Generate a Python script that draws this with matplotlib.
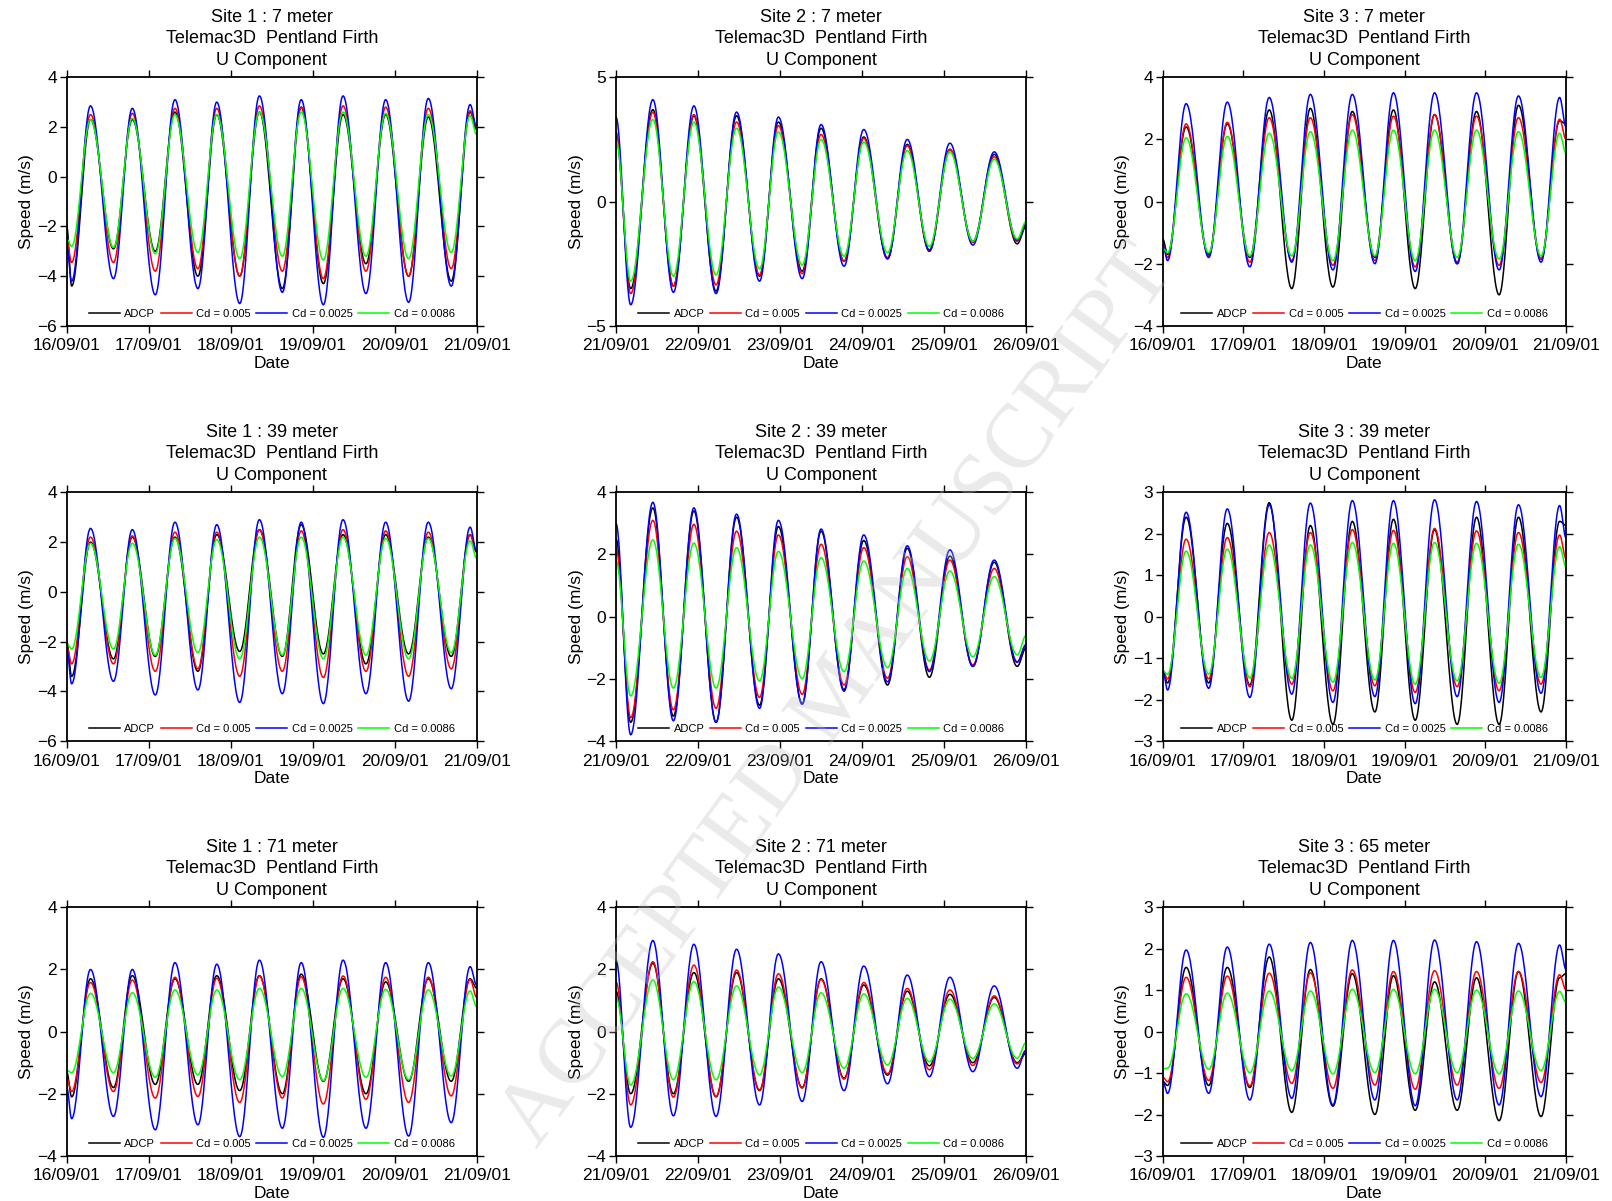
import numpy as np
import matplotlib
matplotlib.use("Agg")
import matplotlib.pyplot as plt

plt.rcParams['font.family'] = ['Liberation Sans', 'DejaVu Sans']

# --------------------------
# Data
# --------------------------
date_labels_a = ["16/09/01", "17/09/01", "18/09/01", "19/09/01", "20/09/01", "21/09/01"]
date_labels_b = ["21/09/01", "22/09/01", "23/09/01", "24/09/01", "25/09/01", "26/09/01"]
series_names = ["ADCP", "Cd = 0.005", "Cd = 0.0025", "Cd = 0.0086"]
series_colors = ["black", "#ff0000", "#0000ff", "#00ff00"]

# days since start: record start, tidal extremes (low, high, low, ...), record end
t_site13 = [0.0, 0.06, 0.29, 0.57, 0.80, 1.08, 1.32, 1.60, 1.83, 2.11, 2.35,
            2.63, 2.86, 3.13, 3.37, 3.65, 3.89, 4.17, 4.41, 4.69, 4.92, 5.0]
t_site2 = [0.0, 0.18, 0.45, 0.70, 0.95, 1.22, 1.47, 1.75, 1.98, 2.27, 2.50,
           2.78, 3.02, 3.31, 3.55, 3.82, 4.07, 4.35, 4.61, 4.89, 5.0]

# rows: ADCP, Cd=0.005, Cd=0.0025, Cd=0.0086
s1_7_low = [[-4.4, -2.9, -3.0, -4.0, -4.0, -4.5, -4.3, -3.5, -4.0, -4.2],
            [-3.45, -3.45, -3.8, -3.7, -4.0, -3.8, -4.1, -3.8, -4.0, -3.7],
            [-4.2, -4.1, -4.75, -4.5, -5.1, -4.65, -5.15, -4.7, -5.05, -4.4],
            [-2.8, -2.85, -3.1, -3.05, -3.3, -3.2, -3.35, -3.2, -3.3, -3.05]]
s1_7_high = [[2.3, 2.3, 2.6, 2.5, 2.6, 2.8, 2.5, 2.5, 2.4, 2.6],
             [2.5, 2.55, 2.75, 2.75, 2.85, 2.8, 2.85, 2.8, 2.75, 2.65],
             [2.85, 2.75, 3.1, 3.0, 3.25, 3.1, 3.25, 3.1, 3.15, 2.9],
             [2.3, 2.35, 2.5, 2.5, 2.6, 2.6, 2.6, 2.55, 2.5, 2.45]]
s1_7_ends = [(-2.0, 1.9), (-2.6, 2.0), (-2.8, 2.0), (-2.5, 1.7)]

s2_7_low = [[-3.5, -3.4, -3.6, -3.0, -2.8, -2.4, -2.3, -2.0, -1.6, -1.7],
            [-3.7, -3.4, -3.35, -2.95, -2.9, -2.4, -2.25, -1.95, -1.65, -1.6],
            [-4.15, -3.65, -3.7, -3.2, -3.1, -2.6, -2.3, -1.95, -1.75, -1.55],
            [-3.2, -3.0, -2.95, -2.7, -2.55, -2.2, -2.05, -1.8, -1.6, -1.5]]
s2_7_high = [[3.7, 3.45, 3.45, 3.2, 2.95, 2.6, 2.3, 2.1, 1.9],
             [3.6, 3.5, 3.2, 3.05, 2.7, 2.55, 2.25, 2.1, 1.8],
             [4.1, 3.85, 3.6, 3.4, 3.1, 2.9, 2.5, 2.35, 2.0],
             [3.3, 3.2, 2.95, 2.8, 2.5, 2.4, 2.05, 2.0, 1.7]]
s2_7_ends = [(2.6, -1.0), (2.8, -0.9), (3.4, -0.9), (2.5, -0.8)]

s3_7_low = [[-1.7, -1.7, -1.8, -2.8, -2.75, -1.8, -2.8, -2.0, -3.0, -1.85],
            [-1.8, -1.75, -1.95, -1.9, -2.05, -1.9, -2.1, -1.95, -2.05, -1.85],
            [-1.9, -1.8, -2.1, -1.95, -2.2, -2.0, -2.25, -2.0, -2.2, -1.95],
            [-1.65, -1.65, -1.75, -1.75, -1.9, -1.75, -1.9, -1.8, -1.85, -1.75]]
s3_7_high = [[2.4, 2.5, 2.95, 3.0, 2.9, 2.95, 2.8, 2.9, 3.1, 2.6],
             [2.5, 2.55, 2.7, 2.7, 2.8, 2.75, 2.8, 2.75, 2.7, 2.65],
             [3.15, 3.2, 3.35, 3.45, 3.45, 3.5, 3.5, 3.5, 3.4, 3.35],
             [2.05, 2.1, 2.2, 2.25, 2.3, 2.3, 2.3, 2.3, 2.25, 2.2]]
s3_7_ends = [(-1.2, 2.5), (-1.4, 2.0), (-1.4, 2.4), (-1.5, 1.55)]

s1_39_low = [[-3.4, -2.7, -2.6, -3.2, -2.4, -2.6, -2.5, -2.9, -2.5, -2.6],
             [-2.9, -2.9, -3.2, -3.1, -3.4, -3.2, -3.45, -3.2, -3.4, -3.1],
             [-3.7, -3.6, -4.15, -3.95, -4.45, -4.1, -4.5, -4.1, -4.4, -3.9],
             [-2.3, -2.3, -2.55, -2.45, -2.7, -2.55, -2.7, -2.55, -2.7, -2.45]]
s1_39_high = [[2.0, 2.2, 2.2, 2.3, 2.5, 2.7, 2.3, 2.3, 2.2, 2.3],
              [2.2, 2.25, 2.4, 2.4, 2.5, 2.45, 2.5, 2.45, 2.4, 2.3],
              [2.55, 2.5, 2.8, 2.7, 2.9, 2.8, 2.9, 2.8, 2.8, 2.6],
              [1.95, 1.95, 2.15, 2.1, 2.2, 2.2, 2.2, 2.15, 2.15, 2.05]]
s1_39_ends = [(-2.0, 1.6), (-2.2, 1.6), (-2.3, 1.6), (-2.1, 1.35)]

s2_39_low = [[-3.4, -3.2, -3.4, -2.85, -2.8, -2.35, -2.2, -1.95, -1.6, -1.6],
             [-3.25, -3.0, -2.95, -2.6, -2.5, -2.2, -1.98, -1.72, -1.55, -1.45],
             [-3.8, -3.35, -3.4, -2.95, -2.82, -2.4, -2.1, -1.77, -1.6, -1.47],
             [-2.55, -2.3, -2.3, -2.07, -2.0, -1.77, -1.64, -1.43, -1.29, -1.23]]
s2_39_high = [[3.5, 3.4, 3.2, 2.9, 2.75, 2.45, 2.2, 1.95, 1.75],
              [3.1, 2.97, 2.75, 2.63, 2.33, 2.22, 1.93, 1.82, 1.55],
              [3.68, 3.5, 3.3, 3.1, 2.82, 2.63, 2.28, 2.15, 1.82],
              [2.47, 2.37, 2.22, 2.1, 1.9, 1.79, 1.55, 1.47, 1.29]]
s2_39_ends = [(2.5, -1.0), (2.2, -0.9), (3.0, -0.9), (1.8, -0.6)]

s3_39_low = [[-1.6, -1.6, -1.65, -2.5, -2.6, -2.3, -2.5, -2.6, -2.6, -2.3],
             [-1.5, -1.5, -1.69, -1.63, -1.79, -1.67, -1.83, -1.69, -1.79, -1.63],
             [-1.77, -1.73, -1.95, -1.87, -2.07, -1.93, -2.1, -1.93, -2.07, -1.85],
             [-1.39, -1.39, -1.48, -1.49, -1.58, -1.53, -1.63, -1.55, -1.61, -1.47]]
s3_39_high = [[2.4, 2.25, 2.75, 2.2, 2.3, 2.35, 2.1, 2.4, 2.4, 2.3],
              [1.87, 1.91, 2.03, 2.03, 2.1, 2.08, 2.13, 2.07, 2.03, 1.97],
              [2.52, 2.6, 2.7, 2.74, 2.8, 2.8, 2.82, 2.78, 2.7, 2.68],
              [1.58, 1.63, 1.73, 1.73, 1.79, 1.77, 1.79, 1.77, 1.75, 1.69]]
s3_39_ends = [(-1.3, 2.2), (-1.3, 1.4), (-1.3, 1.9), (-1.3, 1.2)]

s1_71_low = [[-2.1, -1.8, -1.7, -1.7, -1.9, -2.0, -1.6, -2.0, -1.6, -1.6],
             [-1.93, -1.93, -2.14, -2.09, -2.28, -2.14, -2.33, -2.18, -2.28, -2.07],
             [-2.8, -2.73, -3.16, -3.0, -3.38, -3.11, -3.4, -3.11, -3.36, -2.93],
             [-1.32, -1.32, -1.47, -1.39, -1.55, -1.45, -1.58, -1.47, -1.55, -1.43]]
s1_71_high = [[1.7, 1.8, 1.7, 1.8, 1.8, 1.85, 1.7, 1.6, 1.7, 1.7],
              [1.58, 1.66, 1.75, 1.72, 1.79, 1.77, 1.79, 1.75, 1.75, 1.68],
              [2.0, 2.0, 2.22, 2.17, 2.3, 2.22, 2.3, 2.22, 2.22, 2.09],
              [1.23, 1.25, 1.34, 1.34, 1.39, 1.39, 1.39, 1.36, 1.34, 1.31]]
s1_71_ends = [(-1.3, 1.4), (-1.5, 1.1), (-1.8, 1.5), (-1.25, 0.8)]

s2_71_low = [[-2.0, -2.0, -2.1, -1.9, -1.8, -1.5, -1.4, -1.1, -1.0, -1.0],
             [-2.36, -2.11, -2.09, -1.88, -1.82, -1.53, -1.36, -1.23, -1.09, -1.04],
             [-3.08, -2.71, -2.73, -2.36, -2.25, -1.9, -1.68, -1.45, -1.29, -1.18],
             [-1.72, -1.55, -1.55, -1.39, -1.32, -1.18, -1.07, -0.97, -0.86, -0.86]]
s2_71_high = [[2.2, 1.9, 1.9, 1.7, 1.7, 1.5, 1.3, 1.2, 1.1],
              [2.25, 2.14, 1.98, 1.86, 1.68, 1.58, 1.39, 1.34, 1.15],
              [2.93, 2.81, 2.65, 2.5, 2.25, 2.11, 1.82, 1.75, 1.47],
              [1.66, 1.61, 1.47, 1.43, 1.25, 1.21, 1.07, 1.04, 0.89]]
s2_71_ends = [(1.3, -0.7), (1.6, -0.6), (2.3, -0.6), (1.1, -0.35)]

s3_65_low = [[-1.3, -1.3, -1.35, -1.95, -1.8, -2.0, -1.9, -1.9, -2.15, -2.05],
             [-1.21, -1.18, -1.31, -1.25, -1.37, -1.29, -1.39, -1.29, -1.37, -1.23],
             [-1.49, -1.49, -1.65, -1.61, -1.77, -1.65, -1.79, -1.65, -1.77, -1.57],
             [-0.88, -0.91, -0.99, -0.94, -1.02, -0.99, -1.02, -0.99, -1.02, -0.94]]
s3_65_high = [[1.55, 1.55, 1.8, 1.5, 1.4, 1.35, 1.2, 1.3, 1.45, 1.3],
              [1.31, 1.34, 1.41, 1.42, 1.49, 1.45, 1.47, 1.45, 1.45, 1.37],
              [1.97, 2.04, 2.11, 2.15, 2.2, 2.2, 2.21, 2.17, 2.13, 2.09],
              [0.91, 0.93, 0.98, 0.98, 1.02, 1.02, 1.02, 1.0, 0.98, 0.97]]
s3_65_ends = [(-1.2, 1.4), (-1.1, 1.0), (-1.2, 1.5), (-0.9, 0.7)]

panels = [
    ("Site 1 : 7 meter", t_site13, date_labels_a, s1_7_low, s1_7_high, s1_7_ends, (-6, 4), [-6, -4, -2, 0, 2, 4]),
    ("Site 2 : 7 meter", t_site2, date_labels_b, s2_7_low, s2_7_high, s2_7_ends, (-5, 5), [-5, 0, 5]),
    ("Site 3 : 7 meter", t_site13, date_labels_a, s3_7_low, s3_7_high, s3_7_ends, (-4, 4), [-4, -2, 0, 2, 4]),
    ("Site 1 : 39 meter", t_site13, date_labels_a, s1_39_low, s1_39_high, s1_39_ends, (-6, 4), [-6, -4, -2, 0, 2, 4]),
    ("Site 2 : 39 meter", t_site2, date_labels_b, s2_39_low, s2_39_high, s2_39_ends, (-4, 4), [-4, -2, 0, 2, 4]),
    ("Site 3 : 39 meter", t_site13, date_labels_a, s3_39_low, s3_39_high, s3_39_ends, (-3, 3), [-3, -2, -1, 0, 1, 2, 3]),
    ("Site 1 : 71 meter", t_site13, date_labels_a, s1_71_low, s1_71_high, s1_71_ends, (-4, 4), [-4, -2, 0, 2, 4]),
    ("Site 2 : 71 meter", t_site2, date_labels_b, s2_71_low, s2_71_high, s2_71_ends, (-4, 4), [-4, -2, 0, 2, 4]),
    ("Site 3 : 65 meter", t_site13, date_labels_a, s3_65_low, s3_65_high, s3_65_ends, (-3, 3), [-3, -2, -1, 0, 1, 2, 3]),
]


def knot_values(start, lows, highs, end):
    v = [start]
    for i in range(len(lows)):
        v.append(lows[i])
        if i < len(highs):
            v.append(highs[i])
    return v + [end]


def tidal_curve(tk, vk, n=30):
    # half-cosine shape between successive extremes
    ts, vs = [], []
    for i in range(len(tk) - 1):
        s = np.linspace(0, 1, n, endpoint=False)
        ts.append(tk[i] + (tk[i + 1] - tk[i]) * s)
        vs.append(vk[i] + (vk[i + 1] - vk[i]) * (1 - np.cos(np.pi * s)) / 2)
    ts.append([tk[-1]])
    vs.append([vk[-1]])
    return np.concatenate(ts), np.concatenate(vs)


fig = plt.figure(figsize=(16.12, 12.01), dpi=100)
lefts = [0.0414, 0.3821, 0.7213]
widths = [0.2543, 0.2545, 0.2502]
bottoms = [0.7286, 0.383, 0.0375]
height = 0.2071

for k, (title, tk, dlabels, lows, highs, ends, ylim, yticks) in enumerate(panels):
    row, col = divmod(k, 3)
    ax = fig.add_axes([lefts[col], bottoms[row], widths[col], height])
    for j in range(4):
        vk = knot_values(ends[j][0], lows[j], highs[j], ends[j][1])
        t, v = tidal_curve(tk, vk)
        ax.plot(t, v, color=series_colors[j], lw=1.1, label=series_names[j])
    ax.set_xlim(0, 5)
    ax.set_ylim(*ylim)
    ax.set_xticks(range(6))
    ax.set_xticklabels(dlabels, fontsize=12.5)
    ax.set_yticks(yticks)
    ax.tick_params(axis='y', labelsize=12.5, pad=2)
    ax.tick_params(axis='x', pad=4)
    ax.tick_params(direction='out', length=5, width=1, top=True, right=True)
    for sp in ax.spines.values():
        sp.set_linewidth(1.3)
    ax.set_xlabel("Date", fontsize=12.5, labelpad=2)
    ax.set_ylabel("Speed (m/s)", fontsize=12.5, labelpad=2)
    ax.set_title(title + "\nTelemac3D  Pentland Firth\nU Component", fontsize=13,
                 linespacing=1.33, pad=9)
    ax.legend(loc='lower center', bbox_to_anchor=(0.5, 0.0), ncol=4, frameon=False,
              fontsize=8, handlelength=2.8, columnspacing=0.5, handletextpad=0.4,
              borderaxespad=0.2)

fig.text(0.52, 0.42, "ACCEPTED MANUSCRIPT", family=['Liberation Serif', 'DejaVu Serif'],
         fontsize=66, color='#bbbbbb', alpha=0.3, rotation=54, ha='center', va='center',
         zorder=10)

fig.savefig("out.png", dpi=100)
